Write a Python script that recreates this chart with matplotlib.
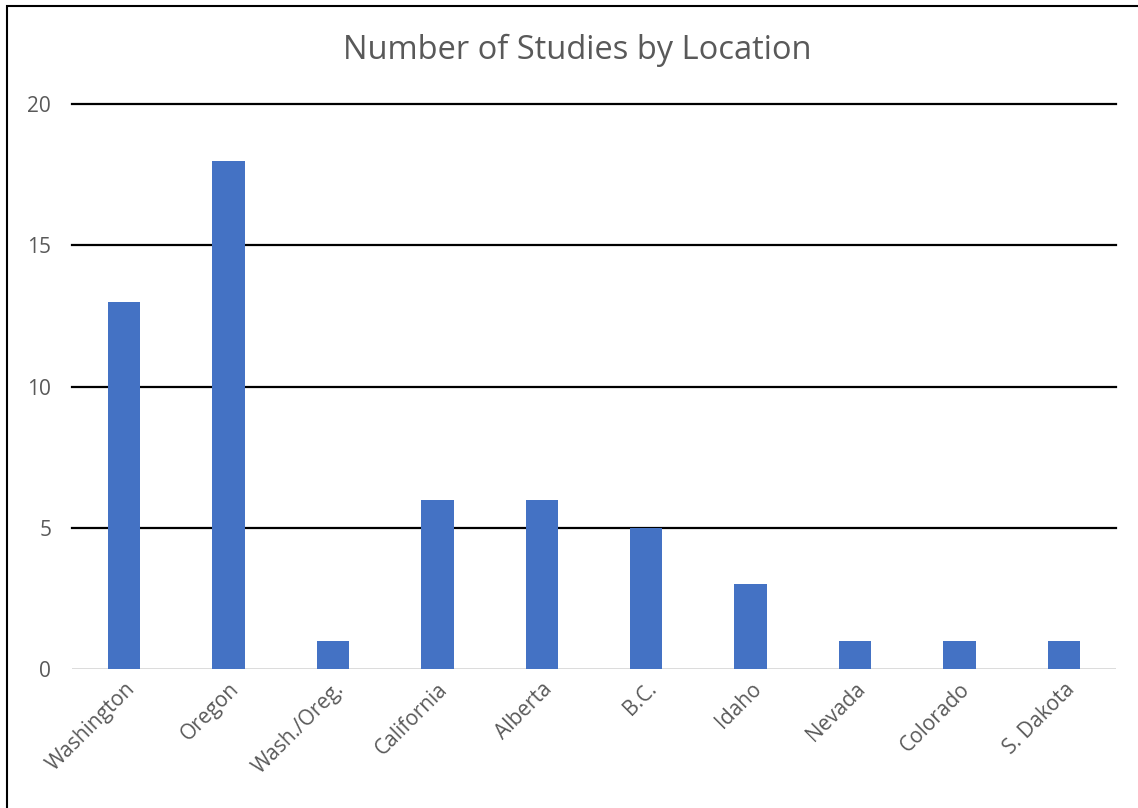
import matplotlib.pyplot as plt
from matplotlib.patches import Rectangle

# Data
locations = ['Washington', 'Oregon', 'Wash./Oreg.', 'California', 'Alberta',
             'B.C.', 'Idaho', 'Nevada', 'Colorado', 'S. Dakota']
studies = [13, 18, 1, 6, 6, 5, 3, 1, 1, 1]
y_ticks = [0, 5, 10, 15, 20]

plt.rcParams['font.family'] = ['Open Sans', 'DejaVu Sans']

fig = plt.figure(figsize=(11.38, 8.08), dpi=100)
ax = fig.add_axes([0.0633, 0.172, 0.9174, 0.699])

x = range(len(locations))
ax.bar(x, studies, width=0.31, color='#4472C4', zorder=3)

ax.set_xlim(-0.5, len(locations) - 0.5)
ax.set_ylim(0, 20)
ax.set_yticks(y_ticks)
ax.set_xticks(list(x))
ax.set_xticklabels(locations, rotation=45, ha='right', rotation_mode='anchor')

# Gridlines: black, baseline light gray
for t in y_ticks[1:]:
    ax.axhline(t, color='black', lw=1.6, zorder=1, clip_on=False)
ax.axhline(0, color='#D9D9D9', lw=1.3, zorder=2)

for s in ax.spines.values():
    s.set_visible(False)
ax.tick_params(axis='both', length=0, labelsize=15, colors='#595959')
ax.tick_params(axis='y', pad=15)
ax.tick_params(axis='x', pad=7)

# Title is centred on the whole chart area, not the plot area
fig.text(577 / 1138, 1 - 50 / 808, 'Number of Studies by Location',
         fontsize=23.5, color='#595959', ha='center', va='center')

# Chart frame (cropped at right and bottom)
fig.patches.append(Rectangle((7 / 1138, -0.1), 1.2, 1.1 - 6 / 808,
                             transform=fig.transFigure, fill=False,
                             edgecolor='black', lw=1.5))

fig.savefig('out.png', dpi=100)
